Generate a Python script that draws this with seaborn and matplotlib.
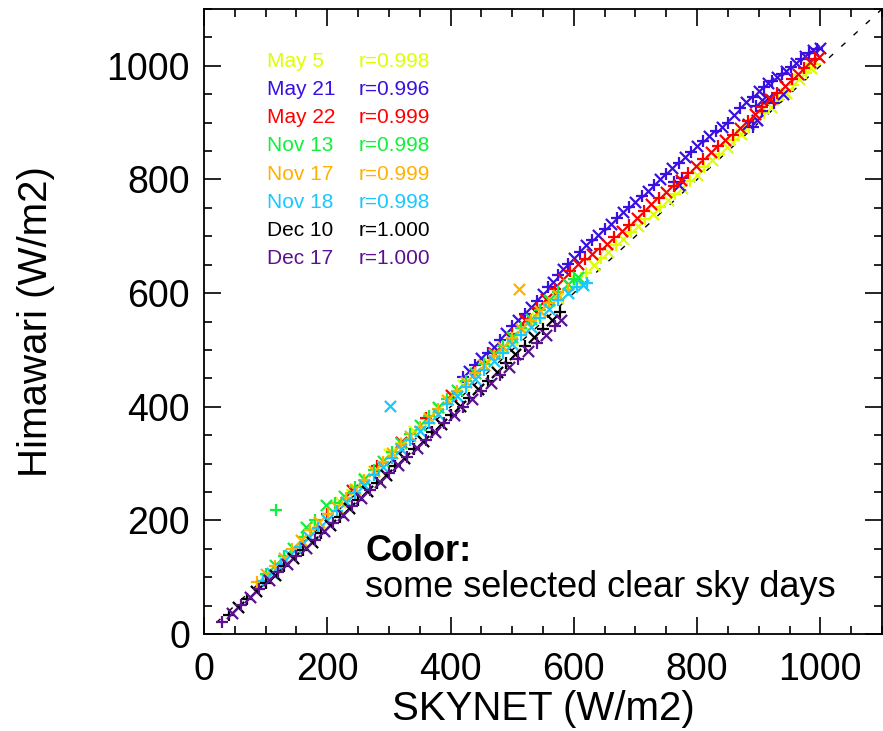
import numpy as np
import pandas as pd
import matplotlib
matplotlib.use("Agg")
import matplotlib.pyplot as plt
from matplotlib.ticker import MultipleLocator
import seaborn as sns

# ---------------- data ----------------
days = ["May 5", "May 21", "May 22", "Nov 13", "Nov 17", "Nov 18", "Dec 10", "Dec 17"]
r_values = ["r=0.998", "r=0.996", "r=0.999", "r=0.998", "r=0.999", "r=0.998", "r=1.000", "r=1.000"]
colors = ["#DDFF00", "#3A10E0", "#FF0000", "#11F03A", "#FFB000", "#18C8FF", "#000000", "#5B1190"]

may5_x = [160, 180, 200, 220, 240, 260, 280, 300, 320, 340, 360, 380, 400, 420, 440, 460, 480, 500, 520,
          540, 560, 575, 590, 605, 620, 632, 644, 656, 668, 680, 692, 704, 716, 728, 740, 752, 764, 776,
          788, 800, 812, 824, 836, 848, 860, 872, 884, 896, 908, 920, 932, 944, 956, 966, 976, 985, 992]
may5_y = [170, 191, 212, 233, 254, 275, 296, 316, 337, 357, 378, 398, 418, 439, 459, 478, 498, 518, 537,
          557, 577, 592, 607, 621, 636, 650, 662, 672, 684, 696, 707, 718, 730, 740, 751, 763, 774, 785,
          797, 808, 822, 834, 845, 857, 869, 880, 892, 904, 917, 928, 940, 953, 966, 977, 988, 997, 1003]

may21_x = [420, 430, 440, 450, 460, 470, 480, 490, 500, 510, 520, 530, 540, 550, 558, 566, 574, 582, 590,
           600, 610, 620, 630, 640, 650, 660, 670, 680, 690, 700, 710, 720, 730, 740, 750, 760, 770, 780,
           790, 800, 810, 820, 830, 840, 850, 860, 870, 880, 890, 900, 908, 915, 922, 930, 938, 945, 952,
           960, 968, 975, 982, 988, 994, 1000,
           763, 770, 775, 883, 890, 897, 905, 915, 925, 940, 895, 905]
may21_y = [453, 463, 474, 485, 495, 505, 517, 530, 542, 553, 564, 575, 586, 598, 610, 620, 632, 643, 652,
           662, 673, 684, 694, 703, 713, 722, 732, 742, 751, 761, 771, 780, 790, 800, 810, 820, 829, 839,
           848, 858, 867, 876, 885, 893, 900, 913, 925, 936, 946, 955, 962, 969, 974, 980, 986, 991, 998,
           1005, 1012, 1018, 1023, 1027, 1030, 1032,
           795, 790, 803, 898, 893, 905, 920, 944, 935, 950, 930, 940]

may22_x = [200, 240, 280, 320, 360, 400, 440, 470, 500, 520, 540, 555, 570, 582, 594, 606, 618, 630, 642,
           654, 666, 678, 690, 702, 714, 726, 738, 750, 762, 774, 786, 798, 810, 822, 834, 846, 858, 870,
           882, 894, 906, 918, 930, 942, 954, 964, 974, 983, 991, 998]
may22_y = [212, 254, 296, 338, 380, 421, 462, 494, 528, 552, 574, 590, 608, 624, 638, 651, 660, 668, 678,
           687, 698, 709, 720, 732, 745, 757, 768, 778, 788, 799, 811, 823, 836, 848, 858, 870, 879, 890,
           903, 916, 927, 942, 953, 964, 976, 986, 996, 1006, 1012, 1016]

nov13_x = [100, 115, 130, 145, 160, 166, 180, 198, 212, 227, 245, 260, 275, 290, 305, 320, 335, 350, 365,
           380, 395, 410, 425, 440, 455, 470, 485, 500, 515, 530, 545, 560, 575, 590, 600, 606, 117]
nov13_y = [106, 121, 137, 152, 170, 189, 200, 227, 230, 243, 258, 273, 289, 305, 320, 336, 352, 367, 383,
           399, 414, 430, 445, 460, 476, 492, 507, 523, 539, 555, 571, 587, 602, 616, 624, 628, 219]

nov17_x = [86, 100, 115, 129, 143, 158, 172, 187, 201, 216, 230, 245, 260, 275, 290, 305, 320, 335, 350,
           365, 380, 395, 410, 425, 440, 455, 470, 485, 500, 515, 530, 545, 560, 575, 590, 511]
nov17_y = [92, 106, 120, 133, 149, 166, 183, 197, 211, 224, 240, 256, 271, 287, 302, 318, 334, 349, 365,
           381, 396, 412, 427, 443, 459, 474, 490, 505, 521, 537, 552, 568, 583, 596, 606, 608]

nov18_x = [95, 110, 125, 140, 155, 170, 185, 200, 215, 230, 245, 260, 275, 290, 305, 320, 335, 350, 365,
           380, 395, 410, 425, 440, 455, 470, 485, 500, 515, 530, 545, 560, 575, 590, 605, 615, 622, 301]
nov18_y = [94, 108, 124, 139, 154, 170, 186, 201, 216, 232, 248, 263, 279, 294, 310, 326, 342, 357, 372,
           388, 404, 419, 434, 449, 464, 480, 495, 510, 526, 541, 556, 572, 588, 600, 610, 614, 617, 401]

dec10_x = [40, 55, 70, 85, 100, 115, 130, 145, 160, 175, 190, 205, 220, 235, 250, 265, 280, 295, 310,
           325, 340, 355, 370, 385, 400, 415, 430, 445, 460, 475, 490, 505, 520, 535, 550, 565, 578]
dec10_y = [33, 47, 61, 76, 90, 104, 119, 133, 148, 162, 177, 192, 206, 221, 236, 251, 266, 280, 295,
           310, 325, 340, 355, 370, 386, 401, 416, 431, 446, 461, 477, 492, 507, 522, 537, 552, 566]

dec17_x = [30, 45, 60, 75, 90, 105, 120, 135, 150, 165, 180, 195, 210, 225, 240, 255, 270, 285, 300,
           315, 330, 345, 360, 375, 390, 405, 420, 435, 450, 465, 480, 495, 510, 525, 540, 555, 570, 580]
dec17_y = [22, 37, 51, 66, 80, 95, 109, 123, 138, 152, 166, 181, 195, 210, 225, 240, 254, 268, 283,
           298, 312, 327, 342, 356, 371, 385, 400, 414, 428, 442, 456, 470, 484, 498, 512, 527, 542, 553]

series_x = [may5_x, may21_x, may22_x, nov13_x, nov17_x, nov18_x, dec10_x, dec17_x]
series_y = [may5_y, may21_y, may22_y, nov13_y, nov17_y, nov18_y, dec10_y, dec17_y]

x_ticks = [0, 200, 400, 600, 800, 1000]
y_ticks = [0, 200, 400, 600, 800, 1000]

# ---------------- figure ----------------
sns.set_style("ticks")
plt.rcParams["font.family"] = ["Liberation Sans", "DejaVu Sans"]
plt.rcParams["text.color"] = "black"
plt.rcParams["axes.labelcolor"] = "black"
plt.rcParams["xtick.color"] = "black"
plt.rcParams["ytick.color"] = "black"

fig = plt.figure(figsize=(8.83, 7.31), dpi=100)
ax = fig.add_axes([204 / 883, 97 / 731, 678 / 883, 625 / 731])

frames = []
for d, xs, ys in zip(days, series_x, series_y):
    f = pd.DataFrame({"SKYNET": xs, "Himawari": ys})
    f["day"] = d
    f["mk"] = ["+" if i % 2 == 0 else "x" for i in range(len(f))]
    frames.append(f)
df = pd.concat(frames, ignore_index=True)

for d, c in zip(days, colors):
    sub = df[df["day"] == d]
    for mk in ["+", "x"]:
        s = sub[sub["mk"] == mk]
        sns.scatterplot(data=s, x="SKYNET", y="Himawari", marker=mk, color=c,
                        s=85 if mk == "+" else 65, linewidth=1.6, ax=ax, legend=False, zorder=3)

# 1:1 line
ax.plot([20, 1100], [20, 1100], color="black", lw=1.0, dashes=(4, 8), zorder=2)

ax.set_xlim(0, 1100)
ax.set_ylim(0, 1100)
ax.set_xticks(x_ticks)
ax.set_yticks(y_ticks)
ax.xaxis.set_minor_locator(MultipleLocator(50))
ax.yaxis.set_minor_locator(MultipleLocator(50))
ax.tick_params(which="both", direction="in", top=True, right=True, width=1.2, color="black")
ax.tick_params(which="major", length=12, labelsize=27)
ax.tick_params(axis="x", which="major", pad=13)
ax.tick_params(axis="y", which="major", pad=10)
ax.tick_params(which="minor", length=6)
for sp in ax.spines.values():
    sp.set_linewidth(1.3)
    sp.set_color("black")

ax.set_xlabel("SKYNET (W/m2)", fontsize=29, va="baseline")
ax.xaxis.set_label_coords(0.5, -(720 - 634) / 625)
ax.set_ylabel("Himawari (W/m2)", fontsize=29, va="center")
ax.yaxis.set_label_coords(-(204 - 36) / 678, 0.5)

# colored legend text
for i, (d, rv, c) in enumerate(zip(days, r_values, colors)):
    yy = 998 - i * 49.6
    ax.text(102, yy, d, color=c, fontsize=15, va="baseline", ha="left")
    ax.text(251, yy, rv, color=c, fontsize=15, va="baseline", ha="left")

ax.text(262, 128, "Color:", fontsize=26, fontweight="bold", va="baseline", ha="left")
ax.text(262, 65, "some selected clear sky days", fontsize=26, va="baseline", ha="left")

fig.savefig("out.png", dpi=100)
